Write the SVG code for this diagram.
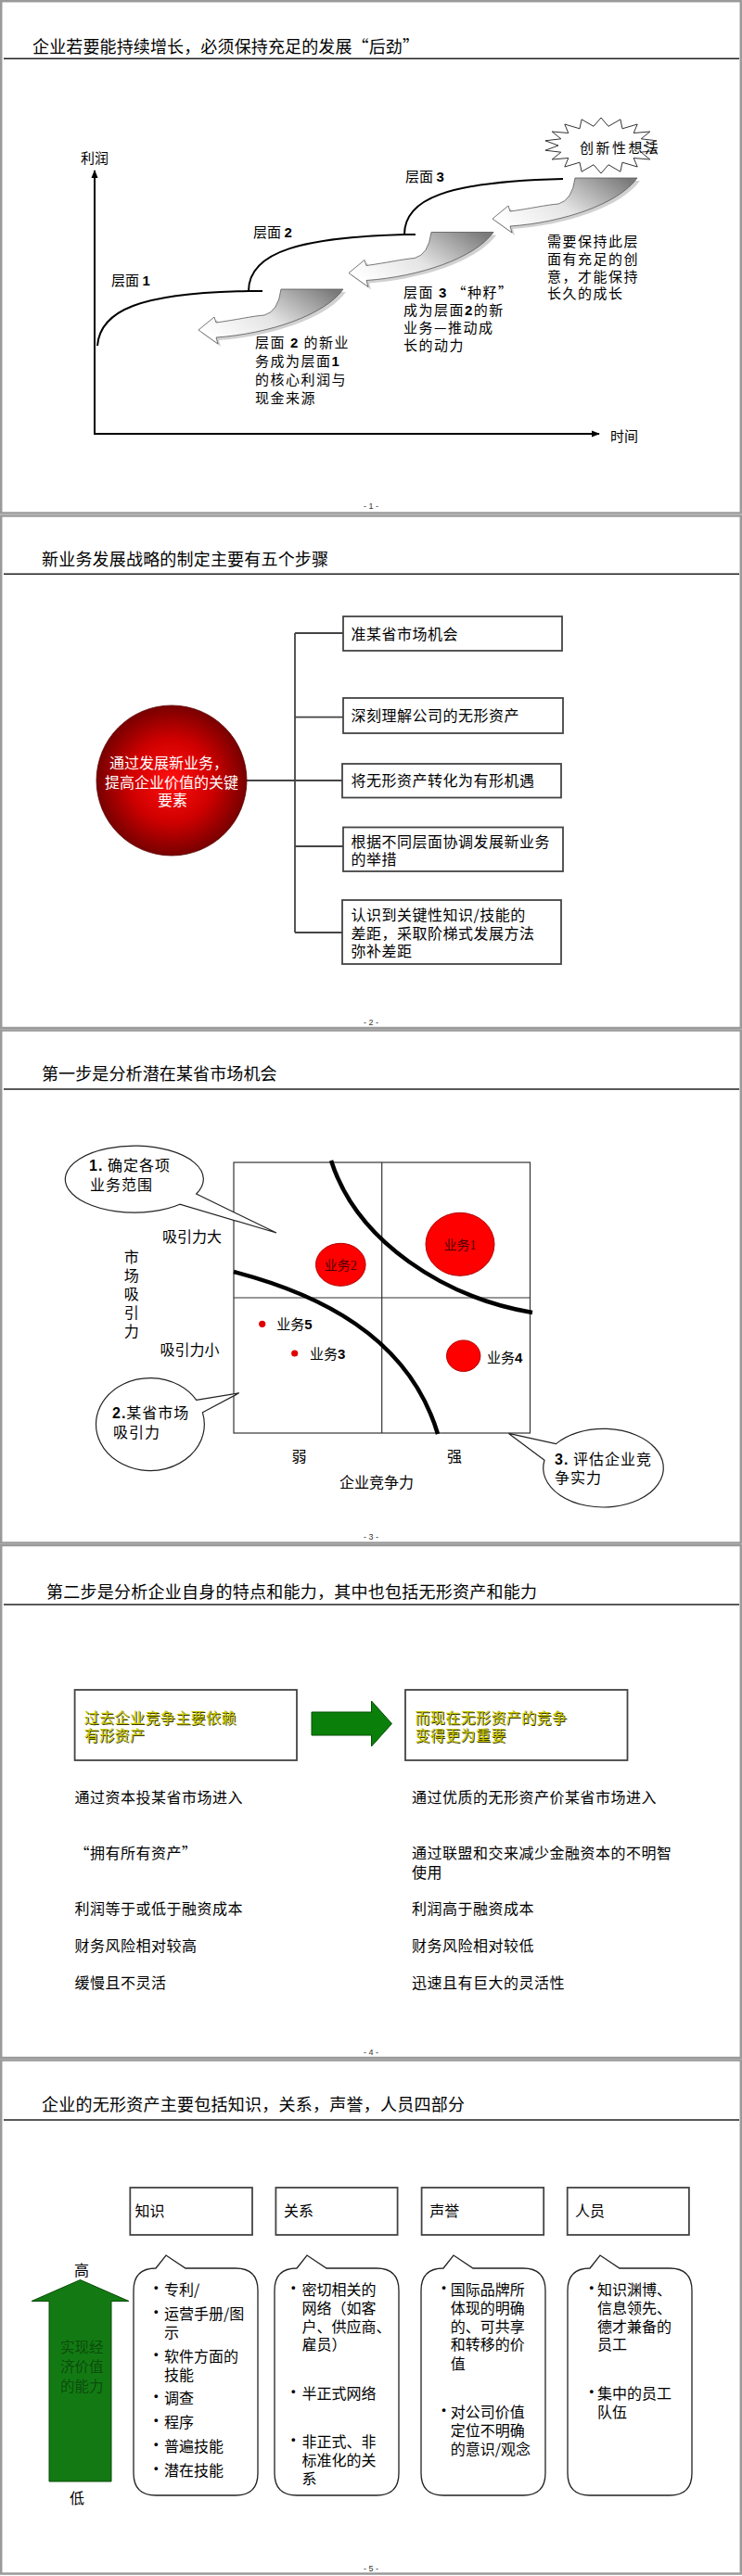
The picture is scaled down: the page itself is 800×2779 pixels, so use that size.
<svg xmlns="http://www.w3.org/2000/svg" width="800" height="2779" viewBox="0 0 800 2779">
<defs>
<style>
.cj{font-family:"Noto Sans CJK SC","Noto Sans CJK JP",sans-serif;fill:#000}
.ti{font-size:18px}
.f16{font-size:16px}
.f15{font-size:15px}
.ls{letter-spacing:1.5px}
.num{font-family:"Liberation Sans",Arial,sans-serif;font-weight:bold}
.pg{font-family:"Liberation Sans",Arial,sans-serif;font-size:9px;fill:#333;text-anchor:middle}
.frame{fill:#fff;stroke:#9a9a9a;stroke-width:2.5}
.hr{stroke:#222;stroke-width:1.5}
.box{fill:#fff;stroke:#444;stroke-width:1.8}
.ln{fill:none;stroke:#000;stroke-width:2}
.conn{fill:none;stroke:#444;stroke-width:1.8}
.call{fill:#fff;stroke:#222;stroke-width:1.2}
.dot{fill:#ff0000;stroke:#b00000;stroke-width:1}
.yl{fill:#c8c800}
.sh{fill:#3a3a00}
.bub{fill:#fff;stroke:#222;stroke-width:1.3}
</style>
<linearGradient id="ga" x1="0" y1="0.7" x2="1" y2="0.15">
<stop offset="0" stop-color="#ffffff"/>
<stop offset="0.45" stop-color="#e4e4e4"/>
<stop offset="1" stop-color="#7a7a7a"/>
</linearGradient>
<radialGradient id="gr" cx="0.5" cy="0.5" r="0.5">
<stop offset="0" stop-color="#ff1010"/>
<stop offset="0.55" stop-color="#d00000"/>
<stop offset="1" stop-color="#780000"/>
</radialGradient>
<marker id="ah" viewBox="0 0 10 10" refX="9" refY="5" markerWidth="9" markerHeight="9" orient="auto" markerUnits="userSpaceOnUse">
<path d="M0,1 L10,5 L0,9 z" fill="#000"/>
</marker>
<path id="sw" d="M303,312 L370,312 C350,340 290,360 233,364 L235,371 L214,356 L231,342 L233,348 C255,345 272,341 285,340 Q300,336 303,312 Z"/>
<path id="bb" d="M168,2447 L179,2433 L200,2447 L254,2447 Q278,2447 278,2471 L278,2668 Q278,2692 254,2692 L168,2692 Q144,2692 144,2668 L144,2471 Q144,2447 168,2447 Z"/>
</defs>
<rect x="0" y="0" width="800" height="2779" fill="#fff"/>

<!-- slide frames -->
<g id="frames">
<rect class="frame" x="1.2" y="1.2" width="797.6" height="552.3"/>
<rect class="frame" x="1.2" y="556.5" width="797.6" height="552.5"/>
<rect class="frame" x="1.2" y="1111.5" width="797.6" height="553"/>
<rect class="frame" x="1.2" y="1667" width="797.6" height="553"/>
<rect class="frame" x="1.2" y="2222.5" width="797.6" height="554"/>
</g>

<!-- ================= SLIDE 1 ================= -->
<g id="slide1">
<text class="cj ti" x="35" y="57" textLength="417" lengthAdjust="spacing">企业若要能持续增长，必须保持充足的发展“后劲”</text>
<line class="hr" x1="4" y1="63.3" x2="797" y2="63.3"/>
<g id="axes">
<line x1="102" y1="469" x2="102" y2="184" stroke="#000" stroke-width="2" marker-end="url(#ah)"/>
<line x1="101" y1="468" x2="646" y2="468" stroke="#000" stroke-width="2" marker-end="url(#ah)"/>
<text class="cj f15" x="87" y="175.7">利润</text>
<text class="cj f15" x="658" y="476">时间</text>
</g>
<g id="curves">
<path class="ln" d="M105,373 C108,335 150,316 268,314 L283,314"/>
<path class="ln" d="M268,314 C268,270 330,256 436,253 L448,253"/>
<path class="ln" d="M436,253 C436,215 480,196 607,193"/>
</g>
<g id="layer-labels">
<text class="cj f15" x="120" y="307.7">层面 <tspan class="num">1</tspan></text>
<text class="cj f15" x="273" y="255.7">层面 <tspan class="num">2</tspan></text>
<text class="cj f15" x="437" y="195.7">层面 <tspan class="num">3</tspan></text>
</g>
<g id="swoosh1">
<use href="#sw" transform="translate(3,3)" fill="#000" opacity="0.18"/>
<use href="#sw" fill="url(#ga)" stroke="#555" stroke-width="0.8"/>
</g>
<g id="swoosh2" transform="translate(162,-61.5)">
<use href="#sw" transform="translate(3,3)" fill="#000" opacity="0.18"/>
<use href="#sw" fill="url(#ga)" stroke="#555" stroke-width="0.8"/>
</g>
<g id="swoosh3" transform="translate(317,-120)">
<use href="#sw" transform="translate(3,3)" fill="#000" opacity="0.18"/>
<use href="#sw" fill="url(#ga)" stroke="#555" stroke-width="0.8"/>
</g>
<g id="idea">
<polygon fill="#fff" stroke="#333" stroke-width="1" points="648,127 656,136.3 668.9,128.8 671,138.8 687.2,134 683.2,143.5 700.8,142 691.2,149.8 708.1,151.8 694,157 708.1,162.2 691.2,164.2 700.8,172 683.2,170.5 687.2,180 671,175.2 668.9,185.2 656,177.7 648,187 640,177.7 627.1,185.2 625,175.2 608.8,180 612.8,170.5 595.2,172 604.8,164.2 587.9,162.2 602,157 587.9,151.8 604.8,149.8 595.2,142 612.8,143.5 608.8,134 625,138.8 627.1,128.8 640,136.3"/>
<text class="cj f15" x="625" y="164.7" style="letter-spacing:2.5px">创新性想法</text>
</g>
<g id="noteA">
<text class="cj f15 ls" x="275" y="374.7">层面 <tspan class="num">2</tspan> 的新业</text>
<text class="cj f15 ls" x="275" y="394.7">务成为层面<tspan class="num">1</tspan></text>
<text class="cj f15 ls" x="275" y="414.7">的核心利润与</text>
<text class="cj f15 ls" x="275" y="434.7">现金来源</text>
</g>
<g id="noteB">
<text class="cj f15 ls" x="435" y="320.7">层面 <tspan class="num">3</tspan> “种籽”</text>
<text class="cj f15 ls" x="435" y="339.7">成为层面<tspan class="num">2</tspan>的新</text>
<text class="cj f15 ls" x="435" y="359">业务—推动成</text>
<text class="cj f15 ls" x="435" y="378.4">长的动力</text>
</g>
<g id="noteC">
<text class="cj f15 ls" x="590" y="265.7">需要保持此层</text>
<text class="cj f15 ls" x="590" y="284.7">面有充足的创</text>
<text class="cj f15 ls" x="590" y="304">意，才能保持</text>
<text class="cj f15 ls" x="590" y="322.4">长久的成长</text>
</g>
<text class="pg" x="400" y="549">- 1 -</text>
</g>

<!-- ================= SLIDE 2 ================= -->
<g id="slide2">
<text class="cj ti" x="45" y="610" textLength="309" lengthAdjust="spacing">新业务发展战略的制定主要有五个步骤</text>
<line class="hr" x1="4" y1="619.3" x2="797" y2="619.3"/>
<g id="connectors2">
<path class="conn" d="M265,842 H318 M318,683 V1006 M318,683 H370 M318,773.6 H370 M318,842 H369 M318,913 H370 M318,1006 H369"/>
</g>
<g id="core">
<circle cx="185" cy="842" r="81" fill="url(#gr)" stroke="#5a0000" stroke-width="0.8"/>
<text class="cj f16" x="182" y="829.3" text-anchor="middle" style="fill:#fff">通过发展新业务，</text>
<text class="cj f16" x="185" y="850.3" text-anchor="middle" style="fill:#fff">提高企业价值的关键</text>
<text class="cj f16" x="186" y="869.3" text-anchor="middle" style="fill:#fff">要素</text>
</g>
<g id="step1">
<rect class="box" x="370" y="665" width="236" height="37"/>
<text class="cj f16" x="378.6" y="689.6" style="letter-spacing:0.5px">准某省市场机会</text>
</g>
<g id="step2">
<rect class="box" x="370" y="753" width="237" height="38"/>
<text class="cj f16" x="378.6" y="777.8" style="letter-spacing:0.5px">深刻理解公司的无形资产</text>
</g>
<g id="step3">
<rect class="box" x="369" y="824" width="236" height="36.5"/>
<text class="cj f16" x="378.6" y="847.8" style="letter-spacing:0.5px">将无形资产转化为有形机遇</text>
</g>
<g id="step4">
<rect class="box" x="370" y="892.5" width="237" height="47.5"/>
<text class="cj f16" x="378.6" y="913.5" style="letter-spacing:0.5px">根据不同层面协调发展新业务</text>
<text class="cj f16" x="378.6" y="933" style="letter-spacing:0.5px">的举措</text>
</g>
<g id="step5">
<rect class="box" x="369" y="971" width="236" height="69"/>
<text class="cj f16" x="378.6" y="993" style="letter-spacing:0.5px">认识到关键性知识/技能的</text>
<text class="cj f16" x="378.6" y="1012.8" style="letter-spacing:0.5px">差距，采取阶梯式发展方法</text>
<text class="cj f16" x="378.6" y="1032.4" style="letter-spacing:0.5px">弥补差距</text>
</g>
<text class="pg" x="400" y="1105.5">- 2 -</text>
</g>

<!-- ================= SLIDE 3 ================= -->
<g id="slide3">
<text class="cj ti" x="45" y="1165" textLength="253.5" lengthAdjust="spacing">第一步是分析潜在某省市场机会</text>
<line class="hr" x1="4" y1="1175" x2="797" y2="1175"/>
<g id="matrix">
<rect x="252" y="1254" width="319.5" height="292" fill="none" stroke="#333" stroke-width="1.2"/>
<line x1="411.7" y1="1254" x2="411.7" y2="1546" stroke="#333" stroke-width="1.2"/>
<line x1="252" y1="1400" x2="571.5" y2="1400" stroke="#333" stroke-width="1.2"/>
<path d="M357,1252 C385,1340 480,1400 574,1416" fill="none" stroke="#000" stroke-width="4.5"/>
<path d="M252,1372 C340,1395 440,1440 472,1547" fill="none" stroke="#000" stroke-width="4.5"/>
</g>
<g id="biz1">
<ellipse class="dot" cx="496" cy="1342.3" rx="37" ry="34"/>
<text x="496" y="1347.5" text-anchor="middle" class="cj" style="font-size:14px;fill:#4a0000">业务<tspan style="font-family:'Liberation Serif',serif">1</tspan></text>
</g>
<g id="biz2">
<ellipse class="dot" cx="367.3" cy="1364.3" rx="26.8" ry="23"/>
<text x="367.3" y="1369.5" text-anchor="middle" class="cj" style="font-size:14px;fill:#4a0000">业务<tspan style="font-family:'Liberation Serif',serif">2</tspan></text>
</g>
<g id="biz4">
<ellipse class="dot" cx="499.7" cy="1462.7" rx="18.2" ry="16.8"/>
<text class="cj f15" x="525" y="1469.5">业务<tspan class="num">4</tspan></text>
</g>
<g id="biz5">
<circle cx="282.7" cy="1428.3" r="3.6" fill="#e00000"/>
<text class="cj f15" x="298.3" y="1433.5">业务<tspan class="num">5</tspan></text>
</g>
<g id="biz3">
<circle cx="317.7" cy="1460" r="3.6" fill="#e00000"/>
<text class="cj f15" x="334" y="1465.5">业务<tspan class="num">3</tspan></text>
</g>
<g id="axislabels3">
<text class="cj f16" x="175" y="1340">吸引力大</text>
<text class="cj f16" x="172.5" y="1461.6">吸引力小</text>
<text class="cj f16" x="141.8" y="1361.6" text-anchor="middle">市</text>
<text class="cj f16" x="141.8" y="1382" text-anchor="middle">场</text>
<text class="cj f16" x="141.8" y="1401.6" text-anchor="middle">吸</text>
<text class="cj f16" x="141.8" y="1422.3" text-anchor="middle">引</text>
<text class="cj f16" x="141.8" y="1442" text-anchor="middle">力</text>
<text class="cj f16" x="322.5" y="1576.5" text-anchor="middle">弱</text>
<text class="cj f16" x="490" y="1576.5" text-anchor="middle">强</text>
<text class="cj f16" x="406" y="1605" text-anchor="middle">企业竞争力</text>
</g>
<g id="callout1">
<path class="call" d="M211.7,1288 L298,1330 L193.9,1299.2 A74.5,36 0 1 1 211.7,1288 Z"/>
<text class="cj f16" x="96" y="1263" style="letter-spacing:1px"><tspan class="num">1.</tspan> 确定各项</text>
<text class="cj f16" x="97" y="1284" style="letter-spacing:1px">业务范围</text>
</g>
<g id="callout2">
<path class="call" d="M211.7,1510.4 L257.7,1502.8 L218.4,1523.8 A58.4,50 0 1 1 211.7,1510.4 Z"/>
<text class="cj f16" x="121" y="1530" style="letter-spacing:1px"><tspan class="num">2.</tspan>某省市场</text>
<text class="cj f16" x="122" y="1551" style="letter-spacing:1px">吸引力</text>
</g>
<g id="callout3">
<path class="call" d="M599.5,1557.6 L548.5,1546.4 L587,1575.3 A64.8,42.3 0 1 0 599.5,1557.6 Z"/>
<text class="cj f16" x="598" y="1580" style="letter-spacing:1px"><tspan class="num">3.</tspan> 评估企业竞</text>
<text class="cj f16" x="598" y="1600" style="letter-spacing:1px">争实力</text>
</g>
<text class="pg" x="400" y="1661">- 3 -</text>
</g>

<!-- ================= SLIDE 4 ================= -->
<g id="slide4">
<text class="cj ti" x="50" y="1723.5" textLength="529" lengthAdjust="spacing">第二步是分析企业自身的特点和能力，其中也包括无形资产和能力</text>
<line class="hr" x1="4" y1="1731" x2="797" y2="1731"/>
<g id="past">
<rect class="box" x="80.6" y="1823" width="239.4" height="76"/>
<text class="cj f16 sh" x="91.8" y="1859.5" style="letter-spacing:0.4px">过去企业竞争主要依赖</text>
<text class="cj f16 yl" x="90.8" y="1858.5" style="letter-spacing:0.4px">过去企业竞争主要依赖</text>
<text class="cj f16 sh" x="91.8" y="1879" style="letter-spacing:0.4px">有形资产</text>
<text class="cj f16 yl" x="90.8" y="1878" style="letter-spacing:0.4px">有形资产</text>
</g>
<g id="shift-arrow">
<polygon points="336,1847 400.5,1847 400.5,1835 422.5,1859.5 400.5,1884 400.5,1872 336,1872" fill="#0a800a" stroke="#035003" stroke-width="1"/>
</g>
<g id="now">
<rect class="box" x="437" y="1823" width="239.5" height="76"/>
<text class="cj f16 sh" x="448.4" y="1859.5" style="letter-spacing:0.4px">而现在无形资产的竞争</text>
<text class="cj f16 yl" x="447.4" y="1858.5" style="letter-spacing:0.4px">而现在无形资产的竞争</text>
<text class="cj f16 sh" x="448.4" y="1879" style="letter-spacing:0.4px">变得更为重要</text>
<text class="cj f16 yl" x="447.4" y="1878" style="letter-spacing:0.4px">变得更为重要</text>
</g>
<g id="rows-left">
<text class="cj f16" x="80.6" y="1945.3" style="letter-spacing:0.5px">通过资本投某省市场进入</text>
<text class="cj f16" x="80.6" y="2005" style="letter-spacing:0.5px">“拥有所有资产”</text>
<text class="cj f16" x="80.6" y="2065" style="letter-spacing:0.5px">利润等于或低于融资成本</text>
<text class="cj f16" x="80.6" y="2105" style="letter-spacing:0.5px">财务风险相对较高</text>
<text class="cj f16" x="80.6" y="2145" style="letter-spacing:0.5px">缓慢且不灵活</text>
</g>
<g id="rows-right">
<text class="cj f16" x="444" y="1945.3" style="letter-spacing:0.5px">通过优质的无形资产价某省市场进入</text>
<text class="cj f16" x="444" y="2005" style="letter-spacing:0.5px">通过联盟和交来减少金融资本的不明智</text>
<text class="cj f16" x="444" y="2025.6" style="letter-spacing:0.5px">使用</text>
<text class="cj f16" x="444" y="2065" style="letter-spacing:0.5px">利润高于融资成本</text>
<text class="cj f16" x="444" y="2105" style="letter-spacing:0.5px">财务风险相对较低</text>
<text class="cj f16" x="444" y="2145" style="letter-spacing:0.5px">迅速且有巨大的灵活性</text>
</g>
<text class="pg" x="400" y="2217">- 4 -</text>
</g>

<!-- ================= SLIDE 5 ================= -->
<g id="slide5">
<text class="cj ti" x="45" y="2277" textLength="456" lengthAdjust="spacing">企业的无形资产主要包括知识，关系，声誉，人员四部分</text>
<line class="hr" x1="4" y1="2287" x2="797" y2="2287"/>
<g id="value-arrow">
<polygon points="53,2677 53,2482.5 34,2482.5 86.5,2459.5 139,2482.5 120,2482.5 120,2677" fill="#137a13" stroke="#0a4a0a" stroke-width="1"/>
<text class="cj" x="65" y="2537.5" style="font-size:15.5px;fill:#0b4d0b">实现经</text>
<text class="cj" x="65" y="2558.5" style="font-size:15.5px;fill:#0b4d0b">济价值</text>
<text class="cj" x="65" y="2579.5" style="font-size:15.5px;fill:#0b4d0b">的能力</text>
<text class="cj f16" x="88" y="2455" text-anchor="middle">高</text>
<text class="cj f16" x="83" y="2701" text-anchor="middle">低</text>
</g>
<g id="knowledge">
<rect class="box" x="140.3" y="2360" width="131.7" height="51"/>
<text class="cj f16" x="145.4" y="2391">知识</text>
<use href="#bb" class="bub"/>
<g class="cj f16">
<text x="168.4" y="2472" text-anchor="middle" class="num" style="font-size:13px">•</text>
<text x="177" y="2476">专利/</text>
<text x="168.4" y="2497.6" text-anchor="middle" class="num" style="font-size:13px">•</text>
<text x="177" y="2501.6">运营手册/图</text>
<text x="177" y="2522">示</text>
<text x="168.4" y="2543.6" text-anchor="middle" class="num" style="font-size:13px">•</text>
<text x="177" y="2547.6">软件方面的</text>
<text x="177" y="2567.5">技能</text>
<text x="168.4" y="2589" text-anchor="middle" class="num" style="font-size:13px">•</text>
<text x="177" y="2593">调查</text>
<text x="168.4" y="2615" text-anchor="middle" class="num" style="font-size:13px">•</text>
<text x="177" y="2619">程序</text>
<text x="168.4" y="2641" text-anchor="middle" class="num" style="font-size:13px">•</text>
<text x="177" y="2645">普遍技能</text>
<text x="168.4" y="2667" text-anchor="middle" class="num" style="font-size:13px">•</text>
<text x="177" y="2671">潜在技能</text>
</g>
</g>
<g id="relations">
<rect class="box" x="297.4" y="2360" width="131.2" height="51"/>
<text class="cj f16" x="306" y="2391">关系</text>
<use href="#bb" class="bub" transform="translate(152,0)"/>
<g class="cj f16">
<text x="316.3" y="2471.6" text-anchor="middle" class="num" style="font-size:13px">•</text>
<text x="325.5" y="2475.6">密切相关的</text>
<text x="325.5" y="2496">网络（如客</text>
<text x="325.5" y="2516">户、供应商、</text>
<text x="325.5" y="2535.4">雇员）</text>
<text x="316.3" y="2584" text-anchor="middle" class="num" style="font-size:13px">•</text>
<text x="325.5" y="2588">半正式网络</text>
<text x="316.3" y="2635.5" text-anchor="middle" class="num" style="font-size:13px">•</text>
<text x="325.5" y="2639.5">非正式、非</text>
<text x="325.5" y="2660">标准化的关</text>
<text x="325.5" y="2680">系</text>
</g>
</g>
<g id="reputation">
<rect class="box" x="454.6" y="2360" width="131.6" height="51"/>
<text class="cj f16" x="463.3" y="2391">声誉</text>
<use href="#bb" class="bub" transform="translate(310,0)"/>
<g class="cj f16">
<text x="478.6" y="2471.6" text-anchor="middle" class="num" style="font-size:13px">•</text>
<text x="485.7" y="2475.6">国际品牌所</text>
<text x="485.7" y="2496">体现的明确</text>
<text x="485.7" y="2516">的、可共享</text>
<text x="485.7" y="2535.4">和转移的价</text>
<text x="485.7" y="2556">值</text>
<text x="478.6" y="2603.5" text-anchor="middle" class="num" style="font-size:13px">•</text>
<text x="485.7" y="2607.5">对公司价值</text>
<text x="485.7" y="2628">定位不明确</text>
<text x="485.7" y="2648">的意识/观念</text>
</g>
</g>
<g id="people">
<rect class="box" x="611.7" y="2360" width="131.2" height="51"/>
<text class="cj f16" x="620" y="2391">人员</text>
<use href="#bb" class="bub" transform="translate(468,0)"/>
<g class="cj f16">
<text x="637.8" y="2471.6" text-anchor="middle" class="num" style="font-size:13px">•</text>
<text x="643.9" y="2475.6">知识渊博、</text>
<text x="643.9" y="2496">信息领先、</text>
<text x="643.9" y="2516">德才兼备的</text>
<text x="643.9" y="2535.4">员工</text>
<text x="637.8" y="2584" text-anchor="middle" class="num" style="font-size:13px">•</text>
<text x="643.9" y="2588">集中的员工</text>
<text x="643.9" y="2607.5">队伍</text>
</g>
</g>
<text class="pg" x="400" y="2774">- 5 -</text>
</g>
</svg>
